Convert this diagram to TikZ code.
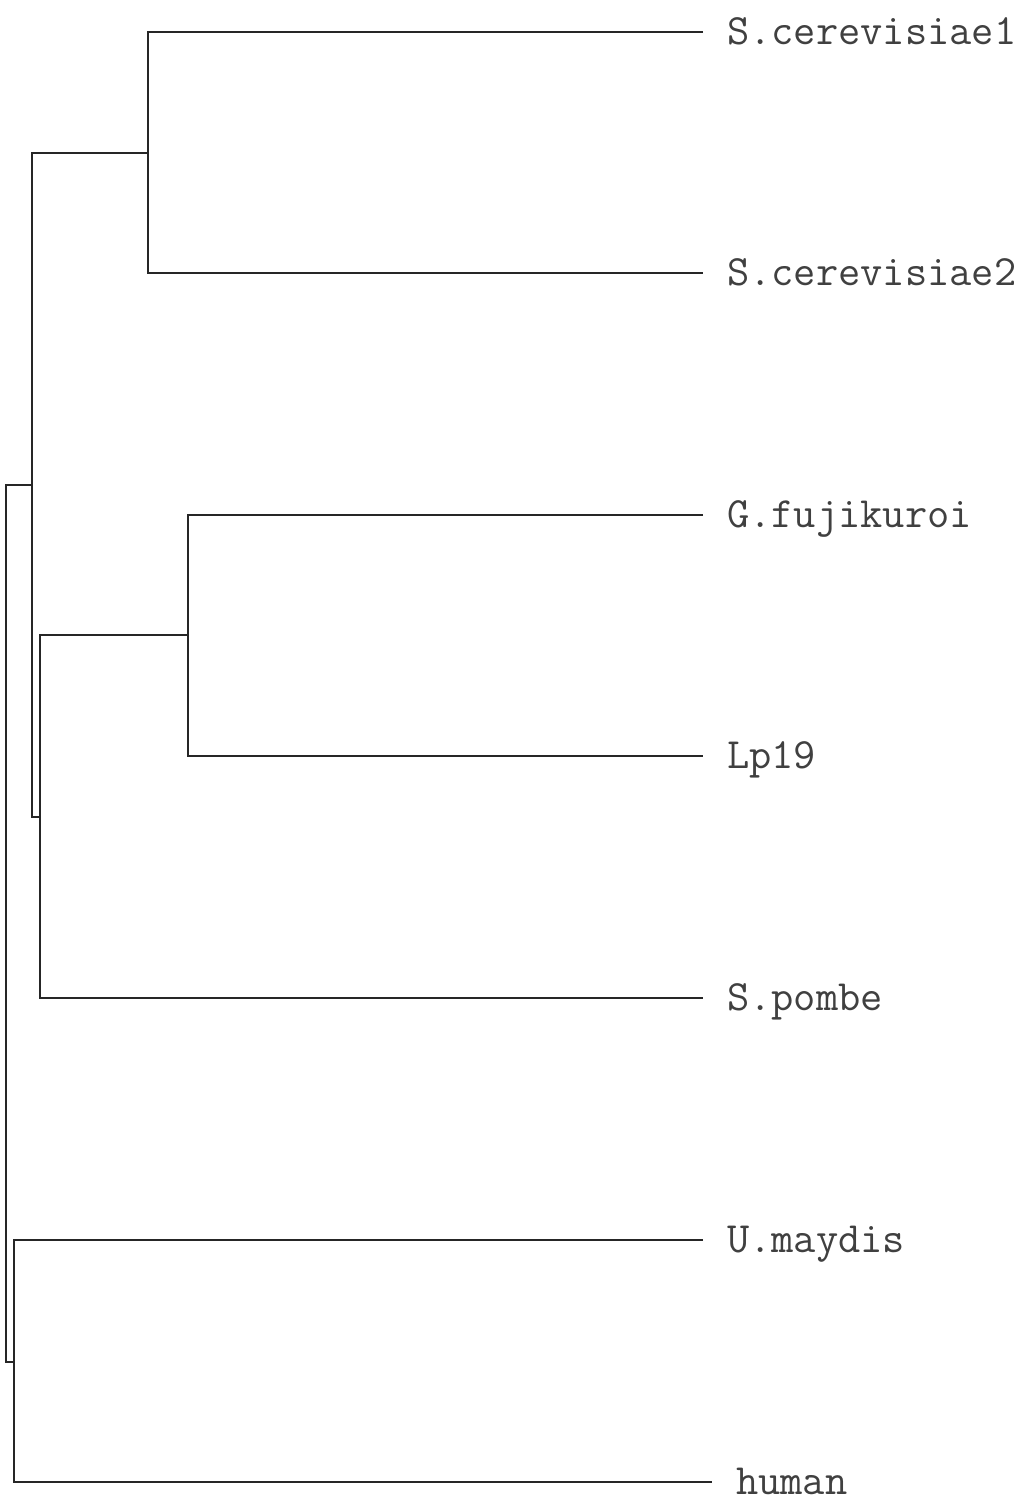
\documentclass[tikz,border=0pt]{standalone}
\begin{document}
\begin{tikzpicture}[x=1pt,y=-1pt,
  branch/.style={line width=2pt,draw=black!85},
  leaf/.style={anchor=west,inner xsep=24pt,inner ysep=0pt,text height=25pt,text depth=0pt,
    font=\ttfamily\fontsize{43.2}{46}\selectfont,text=black!75}]
\useasboundingbox (0,0) rectangle (1026,1503);
% leaves
\node[leaf] (sc1) at (703,32) {S.cerevisiae1};
\node[leaf] (sc2) at (703,273) {S.cerevisiae2};
\node[leaf] (gf) at (703,515) {G.fujikuroi};
\node[leaf] (lp) at (703,756) {Lp19};
\node[leaf] (sp) at (703,998) {S.pombe};
\node[leaf] (um) at (703,1240) {U.maydis};
\node[leaf] (hu) at (712,1482) {human};
% internal nodes
\coordinate (n1) at (148,153);
\coordinate (n2) at (188,635);
\coordinate (n3) at (40,817);
\coordinate (n4) at (32,485);
\coordinate (n5) at (14,1362);
\coordinate (root) at (6,923);
% branches
\draw[branch] (sc1.west) -| (n1) |- (sc2.west);
\draw[branch] (gf.west) -| (n2) |- (lp.west);
\draw[branch] (n2) -| (n3) |- (sp.west);
\draw[branch] (n1) -| (n4) |- (n3);
\draw[branch] (um.west) -| (n5) |- (hu.west);
\draw[branch] (n4) -| (root) |- (n5);
\end{tikzpicture}
\end{document}
